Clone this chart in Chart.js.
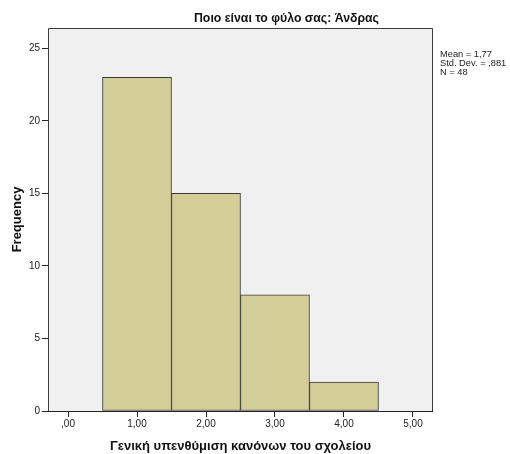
<!DOCTYPE html>
<html>
<head>
<meta charset="utf-8">
<script src="https://cdn.jsdelivr.net/npm/chart.js@4"></script>
<style>
  html, body { margin: 0; padding: 0; background: #ffffff; }
  canvas { display: block; }
</style>
</head>
<body>
<canvas id="histChart" width="510" height="454"></canvas>
<script>
// histogram data
const binCenters = [1, 2, 3, 4];
const frequencies = [23, 15, 8, 2];
const xTickValues = [0, 1, 2, 3, 4, 5];
const yTickValues = [0, 5, 10, 15, 20, 25];
const chartTitle = "Ποιο είναι το φύλο σας: Άνδρας";
const xAxisTitle = "Γενική υπενθύμιση κανόνων του σχολείου";
const yAxisTitle = "Frequency";
const statsLines = ["Mean = 1,77", "Std. Dev. = ,881", "N = 48"];

const FONT = "'Liberation Sans', Arial, sans-serif";

// SPSS style: grey plot background, frame, title and stats box
const spssDecor = {
    id: "spssDecor",
    beforeDraw(chart) {
        const { ctx, chartArea: a } = chart;
        ctx.save();
        ctx.fillStyle = "#f0f0f0";
        ctx.fillRect(a.left, a.top, a.right - a.left, a.bottom - a.top);
        ctx.restore();
    },
    afterDraw(chart) {
        const { ctx, chartArea: a } = chart;
        ctx.save();
        ctx.strokeStyle = "#3c3c3c";
        ctx.lineWidth = 1;
        ctx.beginPath();
        ctx.moveTo(a.left + 0.5, a.bottom);
        ctx.lineTo(a.left + 0.5, a.top + 0.5);
        ctx.lineTo(a.right - 0.5, a.top + 0.5);
        ctx.lineTo(a.right - 0.5, a.bottom);
        ctx.stroke();
        ctx.strokeStyle = "#222";
        ctx.beginPath();
        ctx.moveTo(a.left, a.bottom + 0.5);
        ctx.lineTo(a.right, a.bottom + 0.5);
        ctx.stroke();

        // title
        ctx.fillStyle = "#111";
        ctx.font = "bold 12.3px " + FONT;
        ctx.textAlign = "center";
        ctx.textBaseline = "middle";
        ctx.fillText(chartTitle, (a.left + a.right) / 2 + 46, a.top - 9);

        // stats text
        ctx.fillStyle = "#222";
        ctx.font = "9.3px " + FONT;
        ctx.textAlign = "left";
        statsLines.forEach((line, i) => {
            ctx.fillText(line, a.right + 7, a.top + 26 + i * 9);
        });
        ctx.restore();
    }
};

const ctx = document.getElementById("histChart").getContext("2d");
new Chart(ctx, {
    type: "bar",
    data: {
        datasets: [{
            data: binCenters.map((x, i) => ({ x: x, y: frequencies[i] })),
            backgroundColor: "#d3ce97",
            borderColor: "#3a3a3a",
            borderWidth: 1,
            borderSkipped: false,
            barPercentage: 1,
            categoryPercentage: 1
        }]
    },
    options: {
        responsive: false,
        animation: false,
        layout: { padding: { top: 28, right: 77, left: 0, bottom: 0 } },
        plugins: {
            legend: { display: false },
            tooltip: { enabled: false }
        },
        scales: {
            x: {
                type: "linear",
                offset: false,
                min: -0.29,
                max: 5.29,
                afterBuildTicks: (scale) => { scale.ticks = xTickValues.map(v => ({ value: v })); },
                afterFit: (scale) => { scale.height = 43; },
                border: { display: false },
                grid: { offset: false, drawOnChartArea: false, drawTicks: true, tickLength: 6, color: "#222" },
                ticks: {
                    padding: 1,
                    color: "#222",
                    font: { family: FONT, size: 10 },
                    maxRotation: 0,
                    callback: (v) => {
                        const s = Number(v).toFixed(2).replace(".", ",");
                        return s.startsWith("0,") ? s.slice(1) : s;
                    }
                },
                title: {
                    display: true,
                    text: xAxisTitle,
                    color: "#111",
                    font: { family: FONT, size: 13, weight: "bold" },
                    padding: { top: 0, bottom: 0 }
                }
            },
            y: {
                min: 0,
                max: 26.4,
                afterBuildTicks: (scale) => { scale.ticks = yTickValues.map(v => ({ value: v })); },
                afterFit: (scale) => { scale.width = 48; },
                border: { display: false },
                grid: { drawOnChartArea: false, drawTicks: true, tickLength: 6, color: "#222" },
                ticks: {
                    padding: 2,
                    color: "#222",
                    font: { family: FONT, size: 10 }
                },
                title: {
                    display: true,
                    text: yAxisTitle,
                    color: "#111",
                    font: { family: FONT, size: 13, weight: "bold" },
                    padding: { top: 10, bottom: 0 }
                }
            }
        }
    },
    plugins: [spssDecor]
});
</script>
</body>
</html>
